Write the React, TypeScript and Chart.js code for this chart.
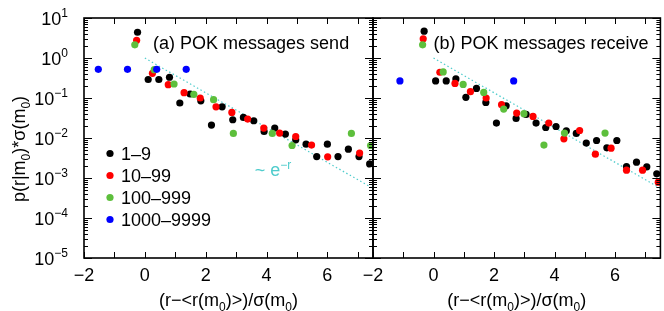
import React, { useEffect, useRef } from 'react';
import { Chart, registerables } from 'chart.js';

Chart.register(...registerables);

const W = 664;
const H = 311;
const FONT = '"Liberation Sans", Arial, Helvetica, sans-serif';

// ---- data: panel (a) POK messages send ----
const sendSmallX = [-0.24, 0.11, 0.46, 0.81, 1.15, 1.49, 1.84, 2.19, 2.54, 2.89, 3.24, 3.58, 3.92, 4.27, 4.62, 4.96, 5.30, 5.65, 6.00, 6.35, 6.69, 7.04, 7.39];
const sendSmallY = [4.4, 0.29, 0.29, 0.33, 0.075, 0.126, 0.085, 0.021, 0.060, 0.0286, 0.0327, 0.027, 0.0146, 0.0177, 0.0125, 0.0090, 0.0070, 0.00344, 0.0070, 0.00344, 0.00527, 0.00344, 0.00225];
const sendMidX = [-0.27, 0.25, 0.77, 1.29, 1.82, 2.34, 2.86, 3.38, 3.91, 4.43, 4.96, 5.48, 6.01, 7.06];
const sendMidY = [2.78, 0.414, 0.215, 0.136, 0.10, 0.060, 0.0435, 0.0298, 0.0177, 0.0133, 0.0109, 0.00664, 0.00338, 0.00419];
const sendLargeX = [-0.33, 0.31, 0.96, 1.61, 2.26, 2.91, 4.19, 4.84, 6.79, 7.42];
const sendLargeY = [2.13, 0.51, 0.224, 0.123, 0.0906, 0.013, 0.013, 0.0065, 0.013, 0.0065];
const sendHugeX = [-1.53, -0.57, 0.39, 1.36];
const sendHugeY = [0.52, 0.52, 0.52, 0.52];

// ---- data: panel (b) POK messages receive ----
const recvSmallX = [-0.31, 0.07, 0.42, 0.74, 1.07, 1.42, 1.73, 2.08, 2.40, 2.73, 3.06, 3.39, 3.71, 4.05, 4.39, 4.72, 5.05, 5.39, 5.73, 6.06, 6.38, 6.71, 7.05, 7.38];
const recvSmallY = [4.68, 0.267, 0.267, 0.30, 0.104, 0.174, 0.0776, 0.0236, 0.064, 0.0308, 0.0388, 0.0236, 0.0183, 0.0194, 0.0151, 0.0130, 0.00745, 0.00867, 0.00567, 0.00867, 0.00193, 0.00249, 0.0019, 0.00127];
const recvMidX = [-0.34, 0.21, 0.71, 1.22, 1.74, 2.25, 2.75, 3.29, 3.81, 4.31, 4.83, 5.35, 5.87, 6.38, 6.91, 7.43];
const recvMidY = [3.01, 0.44, 0.232, 0.144, 0.100, 0.068, 0.042, 0.0346, 0.0236, 0.00955, 0.0154, 0.00394, 0.00558, 0.00157, 0.00157, 0.000785];
const recvLargeX = [-0.36, 0.32, 0.98, 1.66, 2.32, 2.99, 3.65, 4.33, 5.67];
const recvLargeY = [2.13, 0.449, 0.219, 0.138, 0.053, 0.0405, 0.00664, 0.0133, 0.0133];
const recvHugeX = [-1.11, 2.65];
const recvHugeY = [0.267, 0.267];

// ---- reference line ~ e^-r ----
const fitX = [0, 7.5];
const fitY = [1, 0.00055];

const groupLabels = ['1–9', '10–99', '100–999', '1000–9999'];
const groupColors = ['#000000', '#ff0000', '#5dbf3c', '#0000ff'];
const fitColor = '#4fcccc';

const xTickLabels = [-2, 0, 2, 4, 6];
const yDecades = [-5, -4, -3, -2, -1, 0, 1];
const X_MIN = -2;
const X_MAX = 7.5;
const Y_MIN = 1e-5;
const Y_MAX = 10;

type Seg = { t: string; k?: 'sub' | 'sup' };

function drawRich(ctx: CanvasRenderingContext2D, segs: Seg[], x: number, y: number, align: 'left' | 'center' | 'right', size = 18) {
  const small = Math.round(size * 0.68);
  const widths = segs.map((s) => {
    ctx.font = `${s.k ? small : size}px ${FONT}`;
    return ctx.measureText(s.t).width;
  });
  const total = widths.reduce((a, b) => a + b, 0);
  let cx = align === 'left' ? x : align === 'center' ? x - total / 2 : x - total;
  ctx.textAlign = 'left';
  ctx.textBaseline = 'alphabetic';
  segs.forEach((s, i) => {
    ctx.font = `${s.k ? small : size}px ${FONT}`;
    const dy = s.k === 'sub' ? size * 0.25 : s.k === 'sup' ? -size * 0.42 : 0;
    ctx.fillText(s.t, cx, y + dy);
    cx += widths[i];
  });
}

const m0: Seg[] = [{ t: '0', k: 'sub' }];
const xTitle: Seg[] = [{ t: '(r−<r(m' }, ...m0, { t: ')>)/σ(m' }, ...m0, { t: ')' }];
const yTitle: Seg[] = [{ t: 'p(r|m' }, ...m0, { t: ')*σ(m' }, ...m0, { t: ')' }];

type PanelCfg = {
  title: string;
  left: boolean;
};

function makeDeco(cfg: PanelCfg) {
  return {
    id: 'panelDeco',
    afterDraw(chart: any) {
      const ctx: CanvasRenderingContext2D = chart.ctx;
      const a = chart.chartArea;
      const xs = chart.scales.x;
      const ys = chart.scales.y;
      ctx.save();
      ctx.strokeStyle = '#000';
      ctx.fillStyle = '#000';
      ctx.lineWidth = 1;
      const line = (x1: number, y1: number, x2: number, y2: number) => {
        ctx.beginPath();
        ctx.moveTo(x1, y1);
        ctx.lineTo(x2, y2);
        ctx.stroke();
      };
      // x ticks (every unit)
      for (let v = Math.ceil(X_MIN); v <= X_MAX; v++) {
        const px = Math.round(xs.getPixelForValue(v)) + 0.5;
        line(px, a.bottom, px, a.bottom - 6);
        line(px, a.top, px, a.top + 6);
      }
      // y ticks (log major/minor)
      yDecades.forEach((d) => {
        const py = Math.round(ys.getPixelForValue(Math.pow(10, d))) + 0.5;
        line(a.left, py, a.left + 8, py);
        line(a.right, py, a.right - 8, py);
        if (d < 1) {
          for (let m = 2; m <= 9; m++) {
            const q = Math.round(ys.getPixelForValue(m * Math.pow(10, d))) + 0.5;
            line(a.left, q, a.left + 4, q);
            line(a.right, q, a.right - 4, q);
          }
        }
      });
      // border
      ctx.lineWidth = 1.6;
      ctx.strokeRect(a.left, a.top, a.right - a.left, a.bottom - a.top);

      // x tick labels
      ctx.fillStyle = '#000';
      xTickLabels.forEach((v) => {
        const px = xs.getPixelForValue(v);
        const txt = v < 0 ? '−' + Math.abs(v) : String(v);
        drawRich(ctx, [{ t: txt }], px, a.bottom + 23, 'center');
      });
      // x title
      drawRich(ctx, xTitle, (a.left + a.right) / 2, 306, 'center');

      // panel title
      drawRich(ctx, [{ t: cfg.title }], xs.getPixelForValue(cfg.left ? 0.27 : 0.0), a.top + 31, 'left');

      if (cfg.left) {
        // y tick labels
        yDecades.forEach((d) => {
          const py = ys.getPixelForValue(Math.pow(10, d));
          const exp = d < 0 ? '−' + Math.abs(d) : String(d);
          drawRich(ctx, [{ t: '10' }, { t: exp, k: 'sup' }], 68, py + 7, 'right');
        });
        // y title
        ctx.save();
        ctx.translate(25, 149);
        ctx.rotate(-Math.PI / 2);
        drawRich(ctx, yTitle, 0, 0, 'center');
        ctx.restore();

        // legend
        groupLabels.forEach((lab, i) => {
          const cy = 153.5 + 22 * i;
          ctx.fillStyle = groupColors[i];
          ctx.beginPath();
          ctx.arc(110, cy, 3.6, 0, Math.PI * 2);
          ctx.fill();
          ctx.fillStyle = '#000';
          drawRich(ctx, [{ t: lab }], 121, cy + 6.5, 'left');
        });

        // ~ e^-r annotation
        ctx.fillStyle = fitColor;
        drawRich(ctx, [{ t: '~ e' }, { t: '−r', k: 'sup' }], xs.getPixelForValue(3.61), ys.getPixelForValue(0.0011), 'left');
      }
      ctx.restore();
    },
  };
}

function pts(xs: number[], ys: number[]) {
  return xs.map((x, i) => ({ x, y: ys[i] }));
}

function buildDatasets(groups: [number[], number[]][]) {
  const ds: any[] = groups.map((g, i) => ({
    type: 'scatter',
    label: groupLabels[i],
    data: pts(g[0], g[1]),
    backgroundColor: groupColors[i],
    borderWidth: 0,
    pointRadius: 3.6,
    pointHoverRadius: 3.6,
    order: 4 - i,
  }));
  ds.push({
    type: 'line',
    label: 'fit',
    data: pts(fitX, fitY),
    borderColor: fitColor,
    borderWidth: 1.2,
    borderDash: [1.5, 2.5],
    pointRadius: 0,
    fill: false,
    order: 10,
  });
  return ds;
}

function makeChart(canvas: HTMLCanvasElement, groups: [number[], number[]][], cfg: PanelCfg, padLeft: number, padRight: number) {
  return new Chart(canvas, {
    type: 'scatter',
    data: { datasets: buildDatasets(groups) },
    options: {
      animation: false,
      responsive: false,
      events: [],
      layout: { padding: { left: padLeft, right: padRight, top: 18, bottom: 53 } },
      plugins: { legend: { display: false }, tooltip: { enabled: false } },
      scales: {
        x: { type: 'linear', min: X_MIN, max: X_MAX, display: false },
        y: { type: 'logarithmic', min: Y_MIN, max: Y_MAX, display: false },
      },
    } as any,
    plugins: [makeDeco(cfg)],
  });
}

export default function App() {
  const refA = useRef<HTMLCanvasElement>(null);
  const refB = useRef<HTMLCanvasElement>(null);

  useEffect(() => {
    const a = makeChart(
      refA.current!,
      [
        [sendSmallX, sendSmallY],
        [sendMidX, sendMidY],
        [sendLargeX, sendLargeY],
        [sendHugeX, sendHugeY],
      ],
      { title: '(a) POK messages send', left: true },
      84,
      W - 373
    );
    const b = makeChart(
      refB.current!,
      [
        [recvSmallX, recvSmallY],
        [recvMidX, recvMidY],
        [recvLargeX, recvLargeY],
        [recvHugeX, recvHugeY],
      ],
      { title: '(b) POK messages receive', left: false },
      373,
      1
    );
    return () => {
      a.destroy();
      b.destroy();
    };
  }, []);

  const cs: React.CSSProperties = { position: 'absolute', left: 0, top: 0 };
  return (
    <div style={{ position: 'absolute', left: 0, top: 0, width: W, height: H, background: '#fff' }}>
      <canvas ref={refA} width={W} height={H} style={cs} />
      <canvas ref={refB} width={W} height={H} style={cs} />
    </div>
  );
}
